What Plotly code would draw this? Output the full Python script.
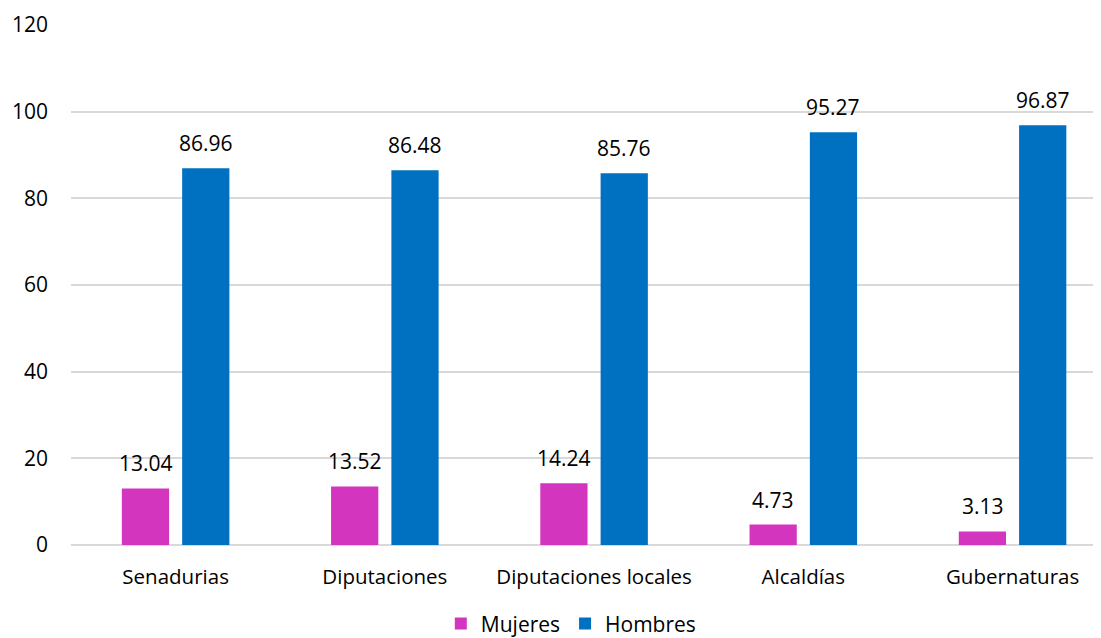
import plotly.graph_objects as go

categories = ["Senadurias", "Diputaciones", "Diputaciones locales", "Alcaldías", "Gubernaturas"]
mujeres = [13.04, 13.52, 14.24, 4.73, 3.13]
hombres = [86.96, 86.48, 85.76, 95.27, 96.87]
y_ticks = [0, 20, 40, 60, 80, 100, 120]

FONT = "Open Sans"
C_M = "#D335BE"
C_H = "#0070C0"

fig = go.Figure()
fig.add_trace(go.Bar(name="Mujeres", x=categories, y=mujeres, marker_color=C_M,
                     marker_line_width=0))
fig.add_trace(go.Bar(name="Hombres", x=categories, y=hombres, marker_color=C_H,
                     marker_line_width=0))

for cat, v in zip(categories, mujeres):
    fig.add_annotation(x=cat, y=v, text=f"{v:.2f}", showarrow=False, xshift=-30, yshift=25,
                       yanchor="middle", font=dict(family=FONT, size=21, color="#000"))
for cat, v in zip(categories, hombres):
    fig.add_annotation(x=cat, y=v, text=f"{v:.2f}", showarrow=False, xshift=30, yshift=25,
                       yanchor="middle", font=dict(family=FONT, size=21, color="#000"))

fig.update_layout(
    width=1101, height=638,
    margin=dict(l=63, r=0, t=17, b=101, autoexpand=False),
    paper_bgcolor="white", plot_bgcolor="white",
    barmode="group", bargap=0.4236, bargroupgap=0.2167,
    font=dict(family=FONT, size=20, color="#000"),
    legend=dict(orientation="h", x=0.482, xanchor="center", y=-0.112, yanchor="top",
                font=dict(family=FONT, size=21), itemwidth=30, tracegroupgap=0),
    xaxis=dict(range=[-0.5, 4.461], showgrid=False, showline=False, ticks="",
               automargin=False,
               tickfont=dict(family=FONT, size=20.5), ticklabelstandoff=17),
    yaxis=dict(range=[0, 120], tickvals=y_ticks, showgrid=True, gridcolor="#D9D9D9",
               gridwidth=1.5, zeroline=True, zerolinecolor="#D9D9D9", zerolinewidth=1.5,
               showline=False, ticks="", automargin=False,
               tickfont=dict(family=FONT, size=21), ticklabelstandoff=22),
)

fig.write_html("out.html")
